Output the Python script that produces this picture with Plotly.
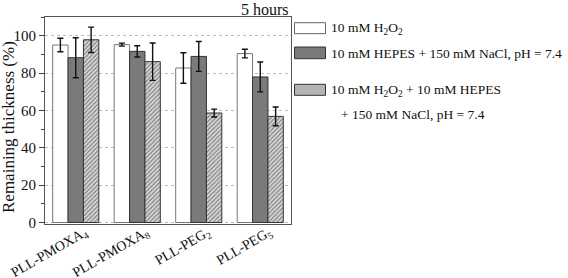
import plotly.graph_objects as go

categories = ["PLL-PMOXA<sub>4</sub>", "PLL-PMOXA<sub>8</sub>", "PLL-PEG<sub>2</sub>", "PLL-PEG<sub>5</sub>"]
series_names = [
    "10 mM H<sub>2</sub>O<sub>2</sub>",
    "10 mM HEPES + 150 mM NaCl, pH = 7.4",
    "10 mM H<sub>2</sub>O<sub>2</sub> + 10 mM HEPES + 150 mM NaCl, pH = 7.4",
]
h2o2_vals = [95.0, 95.2, 82.7, 90.4]
h2o2_err = [3.6, 0.8, 8.2, 2.3]
hepes_vals = [88.2, 91.6, 88.9, 77.9]
hepes_err = [10.7, 3.0, 8.0, 8.0]
mix_vals = [97.8, 86.1, 58.6, 56.8]
mix_err = [6.8, 10.0, 2.1, 5.0]
title_text = "5 hours"
y_title = "Remaining thickness (%)"
y_ticks = [0, 20, 40, 60, 80, 100]

W, H = 568, 278
L, R, T, B = 45, 291, 17, 224
FONT = "Liberation Serif, Times New Roman, serif"

fig = go.Figure()
err_style = dict(type="data", visible=True, color="#111111", thickness=1.4, width=3)

fig.add_bar(x=categories, y=h2o2_vals, error_y=dict(array=h2o2_err, **err_style),
            marker=dict(color="white", line=dict(color="#777777", width=1)),
            name=series_names[0], showlegend=False)
fig.add_bar(x=categories, y=hepes_vals, error_y=dict(array=hepes_err, **err_style),
            marker=dict(color="#7a7a7a", line=dict(color="#333333", width=1)),
            name=series_names[1], showlegend=False)
fig.add_bar(x=categories, y=mix_vals, error_y=dict(array=mix_err, **err_style),
            marker=dict(color="white", line=dict(color="#333333", width=1),
                        pattern=dict(shape="/", fgcolor="#333333", bgcolor="#dcdcdc",
                                     size=3, solidity=0.45)),
            name=series_names[2], showlegend=False)

fig.update_layout(
    width=W, height=H,
    margin=dict(l=L, r=W - R, t=T, b=H - B, pad=0),
    paper_bgcolor="white", plot_bgcolor="white",
    barmode="group", bargap=0.25, bargroupgap=0,
    font=dict(family=FONT, size=14, color="#111111"),
)
fig.update_yaxes(
    range=[-0.8, 110], tickvals=y_ticks, ticks="outside", ticklen=5, tickwidth=1,
    tickcolor="#444444", linecolor="#555555", linewidth=1, mirror=True,
    showgrid=True, gridcolor="#bbbbbb", griddash="dot", gridwidth=1,
    zeroline=False, tickfont=dict(size=15), automargin=False,
    minor=dict(tickvals=[10, 30, 50, 70, 90, 110], ticks="outside", ticklen=3,
               tickcolor="#444444", showgrid=False),
)
fig.update_xaxes(
    linecolor="#555555", linewidth=1, mirror=True, showgrid=False, ticks="",
    tickangle=-30, tickfont=dict(size=14), automargin=False,
    ticklabelstandoff=-6, ticklabelshift=9,
)

def px(x):
    return (x - L) / (R - L)

def py(y):
    return (B - y) / (B - T)

fig.add_annotation(text=y_title, xref="paper", yref="paper", x=px(9), y=py(127),
                   xanchor="center", yanchor="middle", textangle=-90, showarrow=False,
                   font=dict(size=17))

fig.add_annotation(text=title_text, xref="paper", yref="paper", x=1, y=py(9.5),
                   xanchor="right", yanchor="middle", showarrow=False,
                   font=dict(size=16))

legend_boxes = [
    (22.7, 33.7, dict(fillcolor="white", line=dict(color="#666666", width=1))),
    (47.0, 58.7, dict(fillcolor="#7a7a7a", line=dict(color="#333333", width=1))),
    (84.3, 95.3, dict(fillcolor="#b4b4b4", line=dict(color="#333333", width=1))),
]
for y0, y1, st in legend_boxes:
    fig.add_shape(type="rect", xref="paper", yref="paper", x0=px(294.5), x1=px(325.5),
                  y0=py(y1), y1=py(y0), **st)

legend_texts = [
    (329, 28.5, series_names[0]),
    (329, 53, series_names[1]),
    (329, 90, "10 mM H<sub>2</sub>O<sub>2</sub> + 10 mM HEPES"),
    (339, 114, "+ 150 mM NaCl, pH = 7.4"),
]
for x, y, t in legend_texts:
    fig.add_annotation(text=t, xref="paper", yref="paper", x=px(x), y=py(y),
                       xanchor="left", yanchor="middle", showarrow=False,
                       font=dict(size=13.5))

fig.write_html("out.html", post_script="document.body.style.margin='0';",
               config={"displayModeBar": False})
